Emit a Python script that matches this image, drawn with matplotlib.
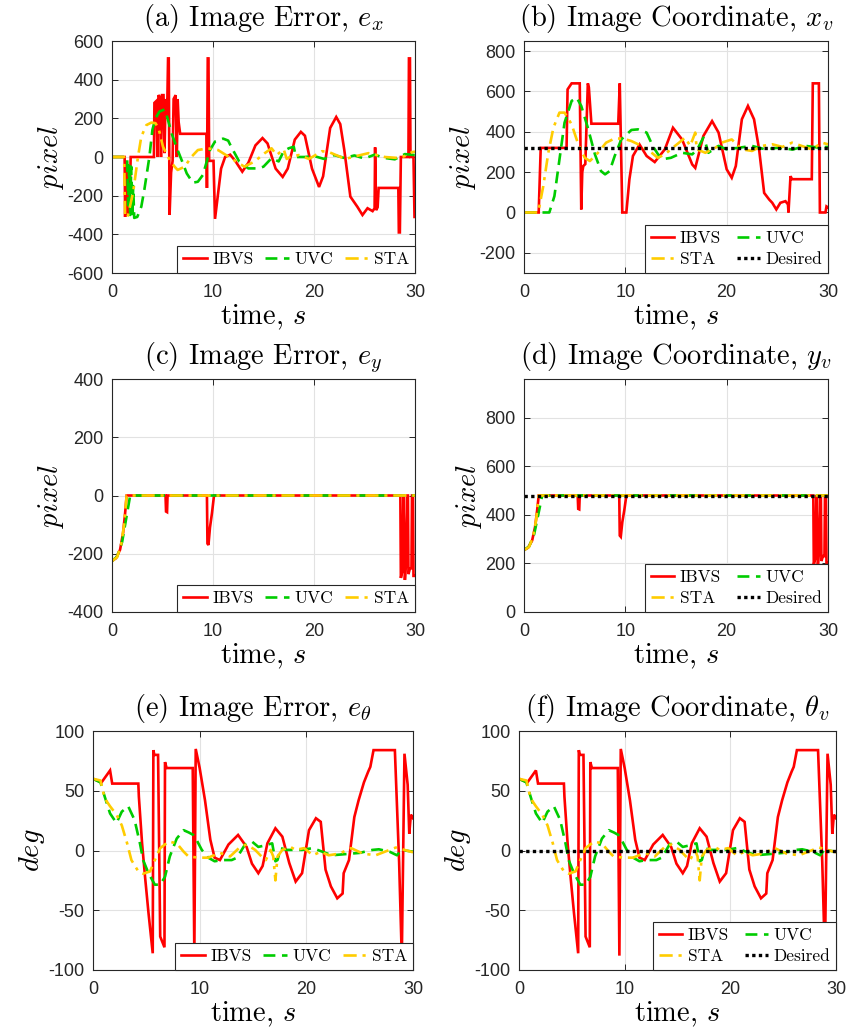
import numpy as np
import matplotlib
matplotlib.use("Agg")
import matplotlib.pyplot as plt

plt.rcParams['mathtext.fontset'] = 'cm'
plt.rcParams['axes.unicode_minus'] = False

# ---------------- data (time s, value) ----------------
EX_IBVS = [(0,0),(1.25,0),(1.3,-310),(1.42,-20),(1.52,-300),(1.62,-90),(1.72,-290),(1.85,0),(4.15,0),
           (4.2,280),(4.4,290),(4.5,0),(4.6,320),(4.75,310),(4.85,0),(4.95,320),(5.1,320),(5.2,20),(5.3,300),
           (5.45,200),(5.55,510),(5.62,510),(5.7,-300),(5.85,-80),(6.0,-20),(6.1,300),(6.3,320),(6.42,0),
           (6.5,300),(6.6,180),(6.75,120),(9.35,120),(9.4,-160),(9.48,510),(9.55,510),(9.62,-20),(10.05,-20),
           (10.2,-320),(10.5,-190),(10.8,-60),(11.2,0),(11.7,12),(12.2,-20),(12.9,-76),(13.5,-30),(14.2,60),
           (14.9,98),(15.4,70),(16.2,-60),(16.9,-103),(17.4,-60),(18.1,90),(18.7,130),(19.1,110),(19.8,-60),
           (20.5,-155),(20.9,-100),(21.6,150),(22.2,207),(22.6,170),(23.0,36),(23.6,-205),(24.3,-258),
           (24.8,-300),(25.3,-265),(25.8,-280),(26.0,-265),(26.05,50),(26.15,-275),(26.3,-260),(26.4,-160),
           (28.35,-160),(28.4,-390),(28.5,-390),(28.6,0),(29.35,0),(29.4,510),(29.5,510),(29.55,0),(29.85,0),
           (29.95,-310),(30,-310)]
EX_UVC = [(0,0),(1.5,0),(1.6,-250),(1.7,-30),(1.8,-300),(1.9,-50),(2.0,-310),(2.1,-150),(2.2,-315),(2.5,-310),
          (2.9,-257),(3.2,-170),(3.45,-85),(3.7,0),(4.0,140),(4.3,200),(4.7,235),(5.2,246),(5.5,200),(5.9,122),
          (6.5,36),(7.0,-30),(7.4,-85),(8.0,-133),(8.5,-128),(9.0,-93),(9.4,-20),(9.7,36),(10.2,80),(11.0,95),
          (11.5,85),(11.8,53),(12.6,-24),(13.5,-59),(14.5,-59),(15.0,-50),(15.8,-6),(16.5,-23),(17.0,30),
          (17.5,45),(18.0,53),(18.2,0),(19.1,0),(20,5),(21,-10),(22,10),(23,-5),(24,8),(25,-8),(26,12),
          (27,-5),(28,-12),(29,15),(30,10)]
EX_STA = [(0,0),(1.2,0),(1.3,-310),(1.55,-310),(2.1,-180),(2.57,0),(2.9,105),(3.4,165),(3.9,178),(4.3,175),
          (4.6,150),(5.05,53),(5.7,-15),(6.2,-50),(6.5,-67),(7.2,-50),(7.85,0),(8.5,36),(9.5,45),(10.5,36),
          (11.8,-7),(13.1,-50),(14.1,-24),(15.1,19),(15.8,45),(16.3,10),(17.0,40),(17.3,-10),(17.6,0),
          (18.5,10),(19.5,-10),(20.8,30),(21.5,25),(23.1,-10),(24.2,5),(25.4,20),(27,0),(28.3,-5),(29.0,5),
          (29.7,25),(30,28)]

XV_IBVS = [(0,0),(1.45,0),(1.65,320),(4.2,320),(4.3,610),(4.7,640),(5.5,640),(5.65,15),(5.75,200),(5.85,230),
           (6.05,240),(6.3,640),(6.4,620),(6.65,440),(9.3,440),(9.45,640),(9.7,0),(10.1,0),(10.4,164),
           (10.75,280),(11.4,337),(12.1,280),(12.9,250),(13.9,313),(14.7,420),(15.6,362),(16.6,238),(16.9,221),
           (17.7,379),(18.56,453),(19.2,396),(20.0,214),(20.5,172),(20.9,230),(21.5,462),(22.1,528),(22.7,462),
           (23.2,313),(23.7,97),(24.2,64),(24.5,48),(24.9,15),(25.3,48),(25.8,56),(26.05,40),(26.1,0),
           (26.3,180),(26.45,165),(28.4,165),(28.5,640),(29.1,640),(29.2,0),(29.75,0),(29.85,30),(30,25)]
XV_UVC = [(0,0),(2.5,0),(3.0,81),(3.5,263),(4.0,445),(4.7,553),(5.2,569),(5.65,528),(6.3,420),(7.0,288),
          (7.6,205),(8.0,189),(8.45,205),(8.95,280),(9.6,362),(10.6,409),(11.25,412),(12.1,396),(12.7,330),
          (13.55,263),(14.5,271),(15.6,296),(16.6,288),(17.1,313),(17.7,371),(17.9,346),(18.2,296),(19.2,330),
          (20.0,313),(21.2,321),(22.5,330),(23.8,313),(25.1,321),(26.5,312),(27.8,330),(29,322),(30,325)]
XV_STA = [(0,0),(1.4,0),(1.9,130),(2.4,296),(2.9,420),(3.5,495),(4.0,495),(4.7,437),(5.3,346),(6.0,271),
          (6.5,255),(7.3,296),(8.1,346),(8.95,367),(9.8,366),(10.6,354),(11.6,330),(12.6,296),(13.2,271),
          (13.9,288),(14.9,330),(15.3,346),(15.9,371),(16.4,330),(16.9,396),(17.05,313),(17.9,296),(18.9,321),
          (19.5,346),(20.5,362),(21.5,313),(22.5,305),(23.5,330),(24.5,338),(25.5,325),(26.45,346),(27.4,330),
          (28.4,313),(29.4,346),(30,338)]
XV_DES = 320

EY_IBVS = [(0,-225),(0.4,-215),(0.8,-186),(1.1,-128),(1.3,-60),(1.45,0),(5.3,0),(5.35,-55),(5.45,-57),(5.5,0),
           (9.4,0),(9.45,-165),(9.55,-170),(9.7,-110),(9.9,-60),(10.1,0),(28.55,0),(28.6,-283),(28.75,-260),
           (28.85,0),(29.0,-290),(29.1,-240),(29.2,0),(29.3,0),(29.35,-270),(29.5,-250),(29.65,-250),(29.7,0),
           (29.8,0),(29.85,-276),(30,-276)]
EY_UVC = [(0,-225),(0.5,-210),(1.0,-160),(1.4,-80),(1.8,0),(30,0)]
EY_STA = [(0,-225),(0.5,-212),(0.9,-170),(1.2,-100),(1.45,0),(30,0)]

YV_IBVS = [(0,255),(0.4,265),(0.8,294),(1.1,352),(1.3,420),(1.45,480),(5.3,480),(5.35,425),(5.45,423),
           (5.5,480),(9.4,480),(9.45,315),(9.55,310),(9.7,370),(9.9,420),(10.1,480),(28.55,480),(28.6,197),
           (28.75,220),(28.85,480),(29.0,190),(29.1,240),(29.2,480),(29.3,480),(29.35,210),(29.5,230),
           (29.65,230),(29.7,480),(29.8,480),(29.85,204),(30,204)]
YV_UVC = [(0,255),(0.5,270),(1.0,320),(1.4,400),(1.8,480),(30,480)]
YV_STA = [(0,255),(0.5,268),(0.9,310),(1.2,380),(1.45,480),(30,480)]
YV_DES = 480

ET_IBVS = [(0,60),(0.8,57),(1.6,67),(1.8,56),(4.25,56),(4.3,45),(4.6,6),(4.9,-24),(5.2,-52),(5.6,-86),
           (5.66,84),(5.75,80),(6.1,80),(6.3,-72),(6.7,-81),(6.75,74),(6.9,69),(9.35,69),(9.5,-88),(9.63,85),
           (10.0,69),(10.5,42),(11.0,9),(11.4,-6),(11.9,-8),(12.7,5),(13.6,13),(14.4,3),(14.9,-11),(15.5,-19),
           (15.9,-13),(16.35,6),(17.1,18.6),(17.75,11.6),(18.4,-10.5),(19.0,-26),(19.6,-19),(20.25,17),
           (20.9,27),(21.35,24),(21.8,-16),(22.3,-30),(22.9,-40),(23.4,-36),(23.5,-19),(24.0,-8),(24.5,28),
           (24.9,42),(25.4,57),(25.8,66),(26.0,70),(26.3,84),(28.3,84),(28.7,-10),(28.95,-90),(29.2,81),
           (29.5,55),(29.65,14),(29.8,30),(30,27)]
ET_UVC = [(0,60),(0.7,57),(1.1,45),(1.6,31),(2.2,23),(2.7,32.5),(3.3,37),(3.9,25.5),(4.4,6),(4.7,-8),
          (5.2,-19),(5.8,-28.6),(6.3,-28.6),(6.75,-22),(7.2,-5),(7.85,10),(8.5,17),(9.0,15),(9.4,13),(9.7,9),
          (10.2,0.5),(10.8,-6),(11.4,-9),(12.1,-8),(13.0,-8),(13.5,-6),(14.25,5),(14.9,7.5),(15.5,3),(16.0,4),
          (16.8,6),(17.1,-9),(17.3,-8),(17.6,2),(18.1,0.5),(19.6,0.5),(20.6,2),(21.5,-1),(22.4,-4),(23.7,-3),
          (25.0,-2),(26.2,0.5),(26.8,1),(27.8,-1),(28.5,-4),(28.9,0.5),(30,-1)]
ET_STA = [(0,60),(0.7,58.6),(1.1,43.6),(1.6,37),(2.2,30),(2.7,21),(3.2,6),(3.6,-8),(4.25,-17.5),(4.7,-19.4),
          (5.35,-17.5),(5.8,-8),(6.3,2),(7.1,7.5),(7.85,6),(8.5,-1),(8.95,-5),(9.9,-6),(10.8,-6),(11.9,-2),
          (12.85,-5),(13.8,3),(14.4,5),(15.2,0.5),(15.8,-5),(16.2,-8),(16.65,0.5),(16.9,-5),(17.1,-25),
          (17.3,-5),(17.75,0.5),(18.5,3),(19.0,0.5),(19.8,2),(20.6,-4),(21.35,-1),(22.1,-4),(23.1,-2.6),
          (24.2,2),(25.3,-2.6),(26.5,-4),(27.8,0.5),(28.4,2.5),(29.2,0.5),(30,-1.5)]
TV_DES = 0

TITLES = [r'(a) Image Error, $e_x$', r'(b) Image Coordinate, $x_v$',
          r'(c) Image Error, $e_y$', r'(d) Image Coordinate, $y_v$',
          r'(e) Image Error, $e_\theta$', r'(f) Image Coordinate, $\theta_v$']
YLABELS = [r'$pixel$', r'$pixel$', r'$pixel$', r'$pixel$', r'$deg$', r'$deg$']
YLIMS = [(-600, 600), (-300, 850), (-400, 400), (0, 960), (-100, 100), (-100, 100)]
YTICKS = [np.arange(-600, 601, 200), np.arange(-200, 801, 200), np.arange(-400, 401, 200),
          np.arange(0, 801, 200), np.arange(-100, 101, 50), np.arange(-100, 101, 50)]
XTICKS = [0, 10, 20, 30]

# ---------------- style ----------------
C_IBVS, C_UVC, C_STA, C_DES = '#ff0000', '#00cc00', '#ffcc00', '#000000'
LW = 1.9
SPINE = '#262626'
W, H = 847, 1035
FS_TITLE = 20.5
FS_TICK = 13

# axes boxes in pixels: left, top, right, bottom
BOXES = [(112, 41, 415, 273), (524, 41, 828, 273),
         (112, 379, 415, 612), (524, 379, 828, 612),
         (93, 731, 413, 970), (519, 731, 836, 970)]

fig = plt.figure(figsize=(W / 100, H / 100), dpi=100)

def arr(p):
    a = np.array(p, dtype=float)
    return a[:, 0], a[:, 1]

panels = [
    (EX_IBVS, EX_UVC, EX_STA, None),
    (XV_IBVS, XV_UVC, XV_STA, XV_DES),
    (EY_IBVS, EY_UVC, EY_STA, None),
    (YV_IBVS, YV_UVC, YV_STA, YV_DES),
    (ET_IBVS, ET_UVC, ET_STA, None),
    (ET_IBVS, ET_UVC, ET_STA, TV_DES),
]

for i, (ib, uv, st, des) in enumerate(panels):
    l, t, r, b = BOXES[i]
    ax = fig.add_axes([l / W, 1 - b / H, (r - l) / W, (b - t) / H])
    x, y = arr(ib)
    h1, = ax.plot(x, y, color=C_IBVS, lw=LW, solid_joinstyle='miter', label='IBVS')
    x, y = arr(uv)
    h2, = ax.plot(x, y, color=C_UVC, lw=LW, ls=(0, (4.5, 2.5)), label='UVC')
    x, y = arr(st)
    h3, = ax.plot(x, y, color=C_STA, lw=LW, ls=(0, (5, 2.2, 1.2, 2.2)), label='STA')
    handles = [h1, h2, h3]
    if des is not None:
        h4 = ax.axhline(des, color=C_DES, lw=2.4, ls=(0, (1, 1)), label='Desired')
    ax.set_xlim(0, 30)
    ax.set_ylim(*YLIMS[i])
    ax.set_xticks(XTICKS)
    ax.set_yticks(YTICKS[i])
    ax.grid(True, color='#e2e2e2', lw=0.8)
    ax.set_axisbelow(True)
    for s in ax.spines.values():
        s.set_color(SPINE)
        s.set_linewidth(0.8)
    ax.tick_params(direction='in', length=4, width=0.7, colors=SPINE, top=True, right=True,
                   labelsize=FS_TICK)
    ax.tick_params(axis='x', pad=8)
    ax.tick_params(axis='y', pad=6)
    for lab in ax.get_xticklabels() + ax.get_yticklabels():
        lab.set_fontfamily('Liberation Sans')
    ax.set_title(TITLES[i], fontfamily='cmr10', fontsize=FS_TITLE, pad=11)
    ax.set_xlabel(r'time, $s$', fontfamily='cmr10', fontsize=FS_TITLE, labelpad=1)
    ax.set_ylabel(YLABELS[i], fontsize=FS_TITLE, labelpad=1)
    common = dict(loc='lower right', borderaxespad=0, handlelength=1.35, handletextpad=0.3,
                  fancybox=False, framealpha=1, prop={'family': 'cmr10', 'size': 12.5})
    if des is None:
        leg = ax.legend(handles=handles, ncol=3, borderpad=0.35, columnspacing=0.7, **common)
    else:
        leg = ax.legend(handles=[h1, h3, h2, h4], ncol=2, borderpad=0.35, labelspacing=0.3,
                        columnspacing=0.9, **common)
    leg.get_frame().set_edgecolor(SPINE)
    leg.get_frame().set_linewidth(0.8)

fig.savefig('out.png', dpi=100)
